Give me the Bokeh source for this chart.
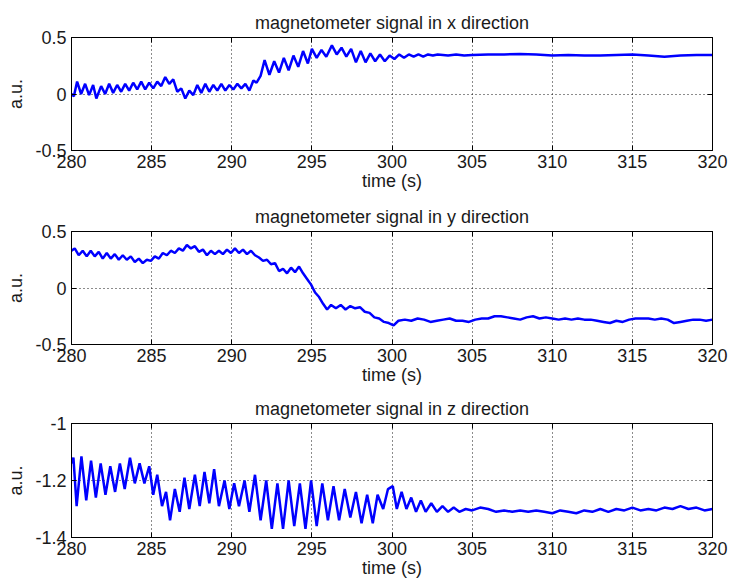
from bokeh.plotting import figure
from bokeh.layouts import column
from bokeh.models import LinearAxis, FixedTicker, CustomJSTickFormatter, Range1d
from bokeh.embed import file_html
from bokeh.resources import INLINE

# ---------------- data ----------------
titles = ["magnetometer signal in x direction",
          "magnetometer signal in y direction",
          "magnetometer signal in z direction"]
x_label = "time (s)"
y_label = "a.u."
x_ticks = [280, 285, 290, 295, 300, 305, 310, 315, 320]
y_ticks_xy = [-0.5, 0, 0.5]
y_ticks_z = [-1.4, -1.2, -1]

t_x = [280.00, 280.15, 280.35, 280.60, 280.85, 281.10, 281.35, 281.55, 281.85, 282.10,
       282.35, 282.60, 282.85, 283.10, 283.35, 283.60, 283.85, 284.10, 284.35, 284.60,
       284.85, 285.10, 285.35, 285.60, 285.85, 286.10, 286.35, 286.60, 286.85, 287.10,
       287.35, 287.60, 287.85, 288.10, 288.35, 288.60, 288.85, 289.10, 289.35, 289.60,
       289.85, 290.10, 290.35, 290.60, 290.85, 291.10, 291.35, 291.55, 291.80, 292.05,
       292.35, 292.65, 292.95, 293.25, 293.55, 293.85, 294.15, 294.45, 294.75, 295.00,
       295.30, 295.60, 295.90, 296.25, 296.55, 296.85, 297.15, 297.45, 297.75, 298.05,
       298.35, 298.65, 298.95, 299.25, 299.55, 299.85, 300.15, 300.45, 300.75, 301.05,
       301.35, 301.65, 301.95, 302.25, 302.55, 302.85, 303.50, 304.00, 304.50, 305.00,
       306.00, 307.00, 308.00, 309.00, 310.00, 311.00, 312.00, 313.00, 314.00, 315.00,
       316.00, 317.00, 318.00, 319.00, 320.00]
sig_x = [0.00, -0.02, 0.11, 0.00, 0.09, -0.01, 0.08, -0.04, 0.07, 0.00,
         0.09, 0.01, 0.08, 0.02, 0.09, 0.03, 0.10, 0.04, 0.11, 0.04,
         0.10, 0.05, 0.11, 0.07, 0.15, 0.09, 0.13, 0.02, 0.05, -0.04,
         0.03, -0.01, 0.08, 0.01, 0.09, 0.02, 0.08, 0.03, 0.09, 0.03,
         0.08, 0.04, 0.09, 0.05, 0.09, 0.03, 0.12, 0.10, 0.16, 0.30,
         0.17, 0.29, 0.19, 0.32, 0.21, 0.34, 0.24, 0.38, 0.27, 0.40,
         0.32, 0.39, 0.33, 0.43, 0.35, 0.41, 0.33, 0.40, 0.28, 0.38,
         0.28, 0.36, 0.29, 0.35, 0.29, 0.34, 0.31, 0.35, 0.32, 0.35,
         0.33, 0.35, 0.33, 0.35, 0.34, 0.35, 0.34, 0.35, 0.34, 0.345,
         0.35, 0.35, 0.355, 0.35, 0.34, 0.345, 0.34, 0.34, 0.345, 0.35,
         0.34, 0.33, 0.34, 0.345, 0.345]

t_y = [280.0, 280.2, 280.45, 280.7, 280.95, 281.2, 281.45, 281.7, 281.95, 282.2,
       282.45, 282.7, 282.95, 283.2, 283.45, 283.7, 283.95, 284.2, 284.45, 284.7,
       284.95, 285.2, 285.45, 285.7, 285.95, 286.2, 286.45, 286.7, 286.95, 287.2,
       287.45, 287.7, 287.95, 288.2, 288.45, 288.7, 288.95, 289.2, 289.45, 289.7,
       289.95, 290.2, 290.45, 290.7, 290.95, 291.2, 291.45, 291.7, 291.95, 292.2,
       292.45, 292.7, 292.95, 293.2, 293.45, 293.7, 293.95, 294.2, 294.45, 294.7,
       294.95, 295.2, 295.45, 295.7, 295.95, 296.2, 296.5, 296.8, 297.1, 297.4,
       297.7, 298.0, 298.3, 298.6, 298.9, 299.2, 299.5, 299.8, 300.1, 300.4,
       300.8, 301.2, 301.6, 302.0, 302.4, 302.8, 303.2, 303.6, 304.0, 304.4,
       304.8, 305.2, 305.6, 306.0, 306.4, 306.8, 307.2, 307.6, 308.0, 308.4,
       308.8, 309.2, 309.6, 310.0, 310.4, 310.8, 311.2, 311.6, 312.0, 312.4,
       312.8, 313.2, 313.6, 314.0, 314.4, 314.8, 315.2, 315.6, 316.0, 316.4,
       316.8, 317.2, 317.6, 318.0, 318.4, 318.8, 319.2, 319.6, 320.0]
sig_y = [0.33, 0.35, 0.29, 0.33, 0.28, 0.33, 0.28, 0.32, 0.26, 0.31,
         0.26, 0.30, 0.25, 0.29, 0.25, 0.28, 0.23, 0.26, 0.22, 0.25,
         0.24, 0.28, 0.26, 0.31, 0.29, 0.33, 0.31, 0.35, 0.33, 0.38,
         0.35, 0.37, 0.32, 0.34, 0.29, 0.33, 0.30, 0.33, 0.30, 0.34,
         0.31, 0.35, 0.31, 0.34, 0.30, 0.33, 0.29, 0.27, 0.24, 0.25,
         0.21, 0.22, 0.15, 0.17, 0.13, 0.18, 0.14, 0.19, 0.13, 0.08,
         0.03, -0.04, -0.08, -0.14, -0.19, -0.15, -0.18, -0.15, -0.19, -0.16,
         -0.18, -0.17, -0.21, -0.22, -0.26, -0.27, -0.30, -0.31, -0.33, -0.29,
         -0.28, -0.29, -0.27, -0.28, -0.30, -0.29, -0.28, -0.27, -0.29, -0.29,
         -0.30, -0.28, -0.27, -0.27, -0.25, -0.25, -0.26, -0.27, -0.28, -0.26,
         -0.25, -0.27, -0.26, -0.27, -0.28, -0.27, -0.28, -0.27, -0.28, -0.28,
         -0.29, -0.30, -0.31, -0.29, -0.30, -0.28, -0.27, -0.27, -0.27, -0.28,
         -0.27, -0.28, -0.31, -0.30, -0.29, -0.28, -0.28, -0.29, -0.28]

t_z = [280.00, 280.12, 280.32, 280.62, 280.92, 281.22, 281.52, 281.82, 282.12, 282.42,
       282.72, 283.02, 283.32, 283.65, 283.95, 284.25, 284.55, 284.85, 285.10, 285.35,
       285.65, 285.90, 286.15, 286.45, 286.75, 287.05, 287.35, 287.70, 288.00, 288.30,
       288.60, 288.90, 289.20, 289.55, 289.85, 290.15, 290.45, 290.80, 291.10, 291.45,
       291.80, 292.15, 292.50, 292.85, 293.20, 293.55, 293.90, 294.25, 294.60, 294.95,
       295.30, 295.65, 296.00, 296.35, 296.70, 297.05, 297.40, 297.75, 298.10, 298.45,
       298.80, 299.10, 299.45, 299.75, 300.05, 300.30, 300.60, 300.90, 301.20, 301.50,
       301.80, 302.10, 302.45, 302.80, 303.15, 303.50, 303.85, 304.20, 304.60, 305.00,
       305.50, 306.00, 306.50, 307.00, 307.50, 308.00, 308.50, 309.00, 309.50, 310.00,
       310.50, 311.00, 311.50, 312.00, 312.50, 313.00, 313.50, 314.00, 314.50, 315.00,
       315.50, 316.00, 316.50, 317.00, 317.50, 318.00, 318.50, 319.00, 319.50, 320.00]
sig_z = [-1.14, -1.12, -1.29, -1.115, -1.27, -1.13, -1.26, -1.14, -1.25, -1.15,
         -1.24, -1.14, -1.23, -1.12, -1.21, -1.14, -1.21, -1.15, -1.25, -1.18,
         -1.29, -1.24, -1.34, -1.23, -1.31, -1.19, -1.30, -1.18, -1.29, -1.17,
         -1.28, -1.16, -1.29, -1.20, -1.30, -1.21, -1.29, -1.20, -1.31, -1.18,
         -1.34, -1.20, -1.37, -1.21, -1.37, -1.20, -1.36, -1.21, -1.37, -1.20,
         -1.36, -1.21, -1.34, -1.22, -1.34, -1.23, -1.33, -1.24, -1.35, -1.25,
         -1.35, -1.25, -1.30, -1.23, -1.22, -1.30, -1.24, -1.30, -1.26, -1.31,
         -1.27, -1.31, -1.28, -1.31, -1.29, -1.31, -1.295, -1.31, -1.30, -1.305,
         -1.295, -1.30, -1.31, -1.305, -1.31, -1.305, -1.31, -1.305, -1.31, -1.315,
         -1.305, -1.31, -1.315, -1.305, -1.31, -1.30, -1.31, -1.30, -1.305, -1.295,
         -1.305, -1.30, -1.305, -1.295, -1.30, -1.29, -1.30, -1.295, -1.305, -1.30]

FONT = "Liberation Sans"
TXT = "#1a1a1a"


def style_axis(ax, ticks, show_labels):
    ax.ticker = FixedTicker(ticks=ticks)
    ax.major_tick_in = 5
    ax.major_tick_out = 0
    ax.minor_tick_line_color = None
    ax.axis_line_color = "black"
    ax.major_tick_line_color = "black"
    ax.major_label_text_font = FONT
    if show_labels:
        ax.formatter = CustomJSTickFormatter(code="return String(tick);")
        ax.major_label_text_color = TXT
        ax.major_label_text_font_size = "18px"
        ax.major_label_standoff = 4
    else:
        # box ticks only (MATLAB style): labels are not drawn at all
        ax.formatter = CustomJSTickFormatter(code="return '';")
        ax.major_label_text_color = None
        ax.major_label_text_alpha = 0
        ax.major_label_text_font_size = "1px"
        ax.major_label_standoff = 0


def make(title, t, v, yr, yticks, height, top, bottom):
    p = figure(width=731, height=height, output_backend="svg", toolbar_location=None,
               x_range=Range1d(280, 320), y_range=Range1d(*yr),
               min_border_left=71, min_border_right=19,
               min_border_top=top, min_border_bottom=bottom)
    p.title.text = title
    p.title.align = "center"
    p.title.text_font = FONT
    p.title.text_font_size = "18px"
    p.title.text_font_style = "normal"
    p.title.text_color = TXT
    p.title.standoff = 9

    p.line(t, v, line_color="#0000ff", line_width=2.5)

    xa = p.xaxis[0]
    style_axis(xa, x_ticks, True)
    xa.axis_label = x_label
    xa.axis_label_standoff = 0
    ya = p.yaxis[0]
    style_axis(ya, yticks, True)
    ya.axis_label = y_label
    ya.axis_label_standoff = 6
    ya.major_label_standoff = 5
    for ax in (xa, ya):
        ax.axis_label_text_font = FONT
        ax.axis_label_text_font_size = "18px"
        ax.axis_label_text_font_style = "normal"
        ax.axis_label_text_color = TXT

    ta = LinearAxis()
    style_axis(ta, x_ticks, False)
    p.add_layout(ta, "above")
    ra = LinearAxis()
    style_axis(ra, yticks, False)
    p.add_layout(ra, "right")

    p.xgrid.ticker = FixedTicker(ticks=x_ticks)
    p.ygrid.ticker = FixedTicker(ticks=yticks)
    for g in (p.xgrid, p.ygrid):
        g.grid_line_color = "black"
        g.grid_line_dash = "1 3"
        g.grid_line_width = 1
        g.grid_line_alpha = 0.9

    p.outline_line_color = "black"
    p.outline_line_width = 1
    p.outline_line_alpha = 1
    p.background_fill_color = "white"
    p.border_fill_color = "white"
    return p


p1 = make(titles[0], t_x, sig_x, (-0.5, 0.5), y_ticks_xy, 194, 37, 44)
p2 = make(titles[1], t_y, sig_y, (-0.5, 0.5), y_ticks_xy, 194, 37, 44)
p3 = make(titles[2], t_z, sig_z, (-1.4, -1.0), y_ticks_z, 200, 35, 51)

layout = column(p1, p2, p3, spacing=0)
open("out.html", "w").write(file_html(layout, INLINE))
